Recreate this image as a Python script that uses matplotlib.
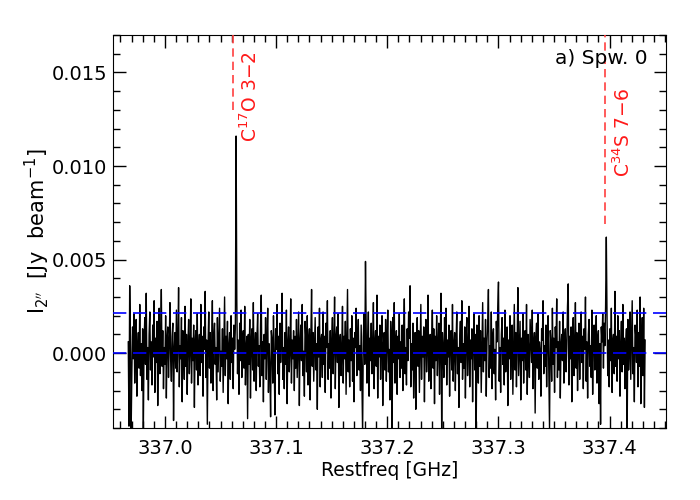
import numpy as np
import matplotlib
matplotlib.use("Agg")
import matplotlib.pyplot as plt
from matplotlib.ticker import MultipleLocator

# spectrum, flux in mJy/beam, channels
spec_1 = [0.6, -3.9, 3.6, 0.9, -4.2, -1.0, 1.4, -0.3, 2.1, -1.6,
          0.4, 1.8, -2.3, 0.2, 1.1, -0.8, 2.6, -1.2, 0.5, -2.0,
          1.3, -4.1, 0.7, 1.9, -0.6, 3.2, -1.4, 0.3, -2.5, 1.0,
          2.2, -0.9, 0.6, -1.7, 1.5, -0.2, 2.8, -2.1, 0.8, -0.5,
          1.7, -2.8, 0.1, 2.4, -1.1, 0.9, 3.4, -0.7, 1.2, -1.9,
          0.3, -0.6, 2.0, -2.4, 0.8, 1.4, -1.3, 0.5, 2.7, -0.4,
          -1.5, 0.9, 1.6, -3.6, 0.2, 1.1, -0.8, 2.3, -1.0, 0.6,
          3.5, -1.8, 0.4, -0.3, 1.9, -2.6, 1.2, 0.7, -1.4, 2.5,
          -0.7, 1.0, -2.2, 0.5, 1.8, -1.1, 0.2, 2.9, -1.6, 0.8]
spec_2 = [-0.4, 1.5, -2.9, 0.6, 1.2, -0.9, 2.1, -1.7, 0.3, 1.0,
          -1.2, 2.6, -0.5, 0.9, -2.3, 1.4, 0.2, 3.3, -1.3, 0.7,
          -3.8, 0.5, 2.2, -0.8, 1.1, -1.6, 0.4, 2.8, -2.0, 0.9,
          1.6, -0.6, 0.3, -2.5, 1.9, -1.0, 0.8, 2.4, -1.5, 0.1,
          -0.7, 1.3, -2.1, 0.6, 3.0, -1.2, 0.9, -0.3, 1.7, -2.7,
          0.4, 1.1, -1.4, 2.0, -0.5, 0.8, -1.9, 1.5, 0.2, 1.4,
          11.6, 2.8, -1.1, 0.7, -2.2, 1.6, -0.4, 2.3, -1.3, 0.5,
          1.2, -0.8, 2.5, -1.7, 0.3, 0.9, -3.5, 1.0, -0.6, 1.8,
          -2.4, 0.6, 1.3, -0.9, 2.7, -1.5, 0.2, 1.1, -2.0, 0.8]
spec_3 = [2.1, -0.7, 0.4, -1.8, 1.5, 3.1, -1.2, 0.6, -2.6, 1.0,
          -0.3, 1.9, -1.4, 0.8, 2.4, -2.1, 0.5, -0.9, -3.4, 1.2,
          0.7, -1.6, 2.0, -0.4, -3.3, 1.3, 0.2, 2.6, -1.1, 0.9,
          -2.2, 1.6, -0.5, 0.8, 3.2, -1.4, 0.3, -1.9, 1.1, -0.6,
          2.3, -2.7, 0.5, 1.4, -1.0, 0.2, 2.9, -1.6, 0.7, -0.3,
          1.2, -2.0, 0.9, -0.8, 1.8, -1.3, 0.4, 2.2, -2.8, 0.6,
          1.5, -0.4, 2.6, -1.2, 0.1, -2.3, 1.7, 0.8, -1.0, 2.0,
          -1.7, 0.6, 1.3, -2.5, 0.9, 3.4, -0.7, 1.1, -1.5, 0.3,
          1.9, -0.9, 0.5, -3.0, 1.4, -0.2, 2.4, -1.8, 0.7, 1.0]
spec_4 = [-1.3, 2.2, -0.6, 0.9, -2.1, 1.6, 0.3, 2.8, -1.4, 0.5,
          -0.8, 1.2, -2.4, 0.7, 1.9, -1.1, 0.4, 3.0, -1.9, 0.8,
          1.4, -0.5, 2.1, -2.9, 0.6, 1.0, -1.2, 0.2, 2.5, -1.6,
          0.9, -0.3, 1.7, -2.2, 0.5, 3.4, -1.0, 0.7, -1.8, 1.3,
          -0.4, 2.0, -1.5, 0.8, -2.6, 1.1, 0.3, 2.4, -1.2, 0.6,
          1.8, -0.9, 0.4, -2.0, 1.5, -1.3, -4.3, 0.9, 2.1, -0.6,
          4.9, 1.2, -1.6, 0.5, 2.2, -2.3, 0.8, -0.4, 1.6, -1.1,
          0.3, 2.7, -1.9, 0.6, 1.2, -0.7, 3.1, -2.4, 0.9, -0.2,
          1.5, -1.4, 0.7, 2.0, -2.8, 0.4, 1.1, -0.9, 1.8, -1.5]
spec_5 = [0.6, 2.3, -1.0, 0.2, -2.5, 1.7, 0.8, -4.3, 1.9, -0.5,
          2.7, -1.6, 0.4, 1.2, -2.2, 0.9, -0.3, 2.1, -1.3, 0.6,
          -0.8, 1.5, -2.0, 0.7, 2.9, -1.1, 0.3, -1.7, 1.3, -0.4,
          2.2, 0.8, 3.6, -1.8, 0.5, -0.9, 1.6, -2.4, 0.2, 1.1,
          -3.0, 0.6, 1.9, -0.7, 1.2, -2.1, 0.4, 2.6, -1.4, 0.9,
          -0.2, 1.4, -2.6, 0.7, 1.8, -1.0, 0.3, 3.1, -1.5, 0.5,
          1.0, -1.9, 0.6, 2.3, -0.8, 1.3, -2.7, 0.9, -0.4, 2.0,
          -1.2, 0.5, 1.6, -2.2, 0.8, 3.2, -4.2, 1.1, 0.2, -1.3,
          1.9, -0.6, 2.4, -1.7, 0.7, -0.2, 1.5, -2.3, 0.9, 1.2]
spec_6 = [-0.9, 2.6, -1.5, 0.4, 1.1, -2.0, 0.6, 2.2, -1.1, 0.3,
          -2.9, 0.8, 1.7, -0.5, 2.8, -1.4, 0.5, -0.8, 1.4, -2.4,
          0.9, 1.9, -1.2, 0.2, 2.5, -1.8, 0.7, -0.3, 1.3, -2.6,
          0.6, 2.1, -0.9, 1.0, -4.1, 1.5, 0.3, -1.6, 2.0, -0.7,
          1.2, -2.1, 0.5, 2.7, -1.0, 0.8, -0.4, 1.8, -2.3, 0.6,
          1.6, 3.4, -1.3, 0.4, -0.8, 2.2, -1.9, 0.9, 1.3, -1.1,
          0.2, -2.5, 1.7, 0.6, 2.4, 3.8, -1.5, 0.3, -2.1, 1.0,
          1.9, -0.6, 0.8, -1.7, 2.3, -1.0, 0.5, 1.4, -2.8, 0.7,
          -0.3, 2.0, -1.4, 0.9, 1.5, -2.2, 0.4, 2.6, -0.9, 1.1]
spec_7 = [-1.8, 0.6, 3.5, -1.2, 0.3, 1.7, -2.5, 0.8, -0.4, 2.1,
          -1.6, 0.5, 1.2, -0.9, 2.6, -2.2, 1.0, 0.2, -1.3, 1.8,
          0.7, -0.5, 2.3, -1.9, 0.4, 1.1, -3.2, 0.9, 1.6, -0.8,
          2.1, -1.4, 0.6, 0.1, -2.3, 1.3, 0.7, 2.8, -1.1, 0.4,
          -0.7, 1.5, -1.8, 0.9, 2.0, -1.2, -4.0, 1.2, 0.5, -1.5,
          2.4, -0.6, 0.8, -2.1, 1.4, 0.3, 2.9, -1.3, 0.6, -0.9,
          1.7, -2.4, 0.5, 1.0, -0.4, 2.2, -1.6, 0.7, 1.3, -1.0,
          0.2, 2.5, 3.7, -1.7, 0.9, -0.3, 1.4, -2.6, 0.6, 1.9,
          -1.2, 0.4, 2.7, -0.8, 1.1, -2.0, 0.5, 1.6, -1.4, 0.8]
spec_8 = [2.2, -0.5, 0.9, -1.9, 1.3, 0.2, 3.0, -1.5, 0.6, -2.4,
          1.0, 1.8, -0.7, 0.4, -1.3, 2.3, -2.2, 0.8, 1.5, -0.9,
          0.3, 2.0, -1.6, 0.7, 1.2, -2.7, 0.5, -3.8, 1.4, 0.6,
          2.1, -0.8, 1.6, 0.4, 2.5, 6.2, 1.9, -1.2, 0.7, -1.8,
          1.3, -0.4, 2.4, -2.1, 0.6, 1.0, -1.1, 3.3, -0.7, 0.9,
          -1.5, 2.0, -0.3, 1.2, -2.3, 0.5, 1.7, -1.0, 2.6, -0.6,
          0.8, -1.9, 0.4, 1.3, -4.3, 1.8, -0.9, 0.2, 2.2, -1.4,
          0.6, 2.8, -1.1, 0.3, -2.6, 1.5, 0.9, -0.5, 2.3, -1.8,
          1.1, -0.7, 3.0, -2.7, 0.5, 1.9, -1.2, 2.4, -2.9, 0.7]

f_start = 336.967   # GHz, first channel
f_stop = 337.432    # GHz, last channel

lines_freq = [337.061, 337.396]
lines_label = [r'C$^{17}$O 3$-$2', r'C$^{34}$S 7$-$6']
lines_top = [0.0130, 0.0069]      # bottom end of the red marker
lines_text_y = [0.0113, 0.0094]   # where the rotated label starts

rms_level = 0.00215

flux = np.array(spec_1 + spec_2 + spec_3 + spec_4 +
                spec_5 + spec_6 + spec_7 + spec_8) * 1e-3
freq = np.linspace(f_start, f_stop, len(flux))

plt.rcParams['font.family'] = 'DejaVu Sans'
plt.rcParams['font.size'] = 13

fig = plt.figure(figsize=(7, 5), dpi=100)
ax = fig.add_axes([0.161, 0.144, 0.79, 0.786])

ax.plot(freq, flux, color='k', lw=1.0, zorder=2)

ax.axhline(0.0, color='blue', lw=1.2, ls=(0, (8, 4)), zorder=3)
ax.axhline(rms_level, color='blue', lw=1.2, ls=(0, (8, 4)), zorder=3)

for f, lab, ytop, ytxt in zip(lines_freq, lines_label, lines_top, lines_text_y):
    ax.plot([f, f], [ytop, 0.017], color='#ff4040', lw=1.2, ls=(0, (5, 3)), zorder=3)
    ax.annotate(lab, xy=(f, ytxt), xytext=(5, 0), textcoords='offset points',
                rotation=90, ha='left', va='bottom', color='#ff1a1a', fontsize=13.5)

ax.text(0.967, 0.94, 'a) Spw. 0', transform=ax.transAxes, ha='right', va='center', fontsize=14.5)

ax.set_xlim(336.953, 337.4505)
ax.set_ylim(-0.004, 0.017)
ax.xaxis.set_major_locator(MultipleLocator(0.1))
ax.xaxis.set_minor_locator(MultipleLocator(0.01))
ax.yaxis.set_major_locator(MultipleLocator(0.005))
ax.yaxis.set_minor_locator(MultipleLocator(0.001))
ax.xaxis.set_major_formatter(plt.FormatStrFormatter('%.1f'))
ax.yaxis.set_major_formatter(plt.FormatStrFormatter('%.3f'))
ax.tick_params(which='both', direction='in', top=True, right=True, width=1.0, labelsize=14)
ax.tick_params(which='major', length=9)
ax.tick_params(axis='x', which='major', pad=8)
ax.tick_params(axis='y', which='major', pad=4)
ax.tick_params(which='minor', length=5)

ax.set_xlabel('Restfreq [GHz]', labelpad=2, fontsize=13.5)
ax.set_ylabel(r"I$_{2''}$  [Jy  beam$^{-1}$]", labelpad=0, fontsize=15)

fig.savefig('out.png', dpi=100)
